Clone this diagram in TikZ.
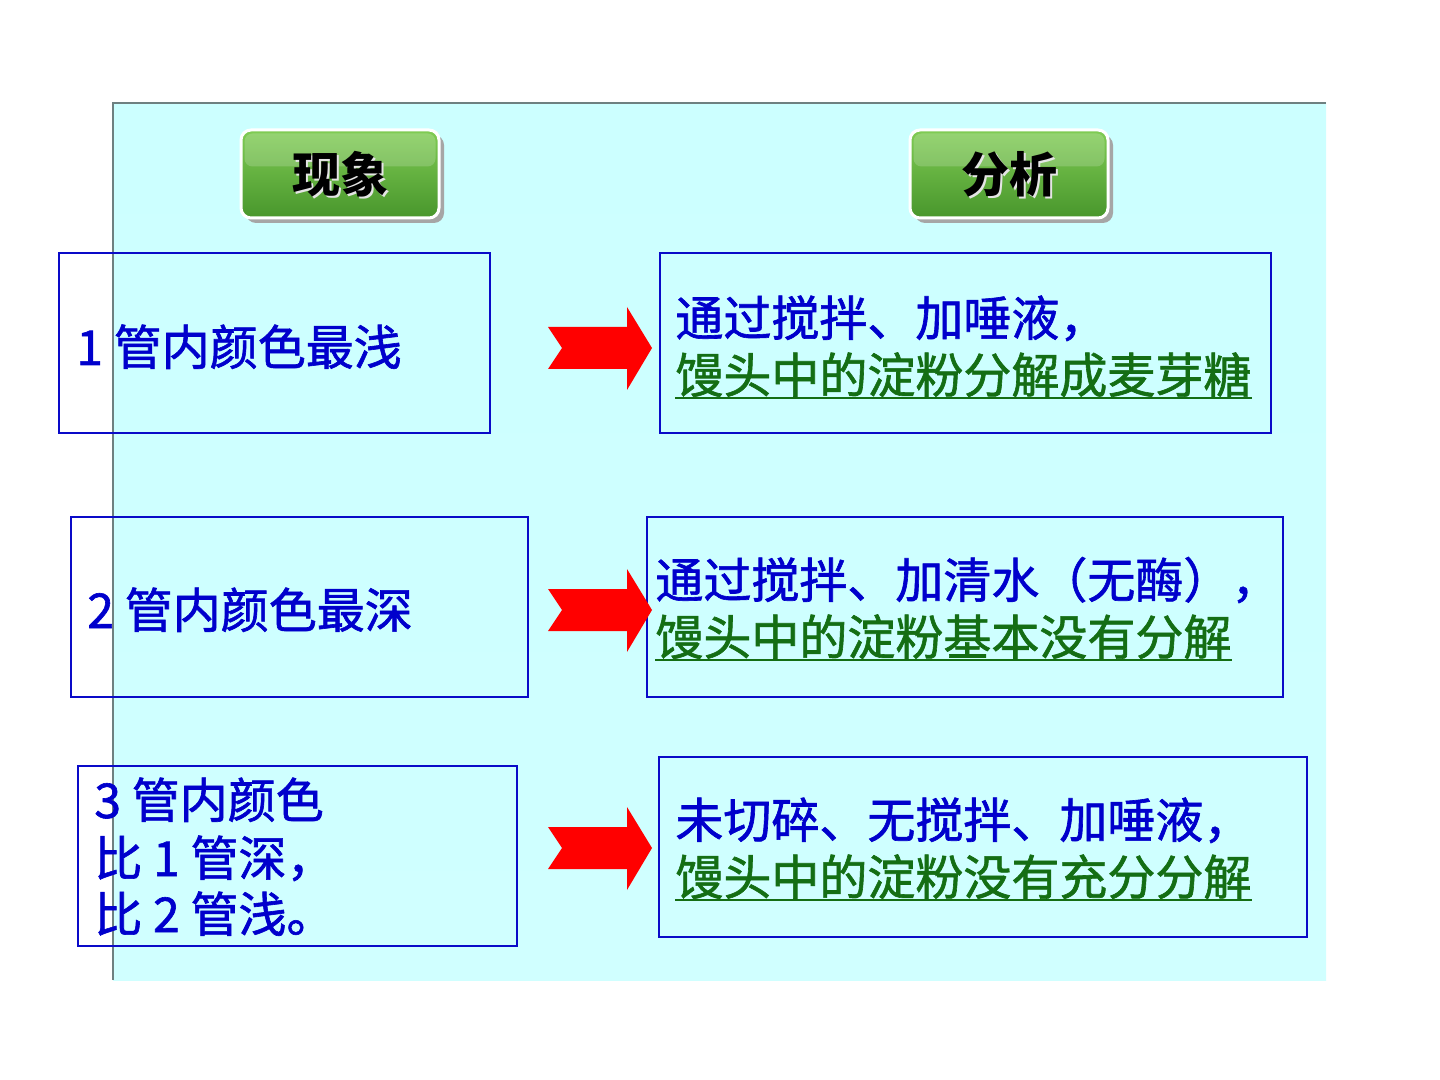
\documentclass[tikz,border=0pt]{standalone}
\usepackage{fontspec}
\newfontfamily\cjk[FakeBold=1.3]{Noto Sans CJK SC}
\newfontfamily\cjkh{Noto Sans CJK SC}
\usetikzlibrary{fit,shadows}
\definecolor{txtblue}{RGB}{0,0,204}
\definecolor{boxblue}{RGB}{10,10,200}
\definecolor{txtgreen}{RGB}{20,110,20}
\definecolor{arrred}{RGB}{255,0,0}
\definecolor{paneltop}{RGB}{204,255,255}
\definecolor{panelmid}{RGB}{232,255,255}
\definecolor{panelbot}{RGB}{208,255,255}
\definecolor{panelline}{RGB}{110,128,128}
\definecolor{btntop}{RGB}{128,204,84}
\definecolor{btnbot}{RGB}{72,150,44}
\begin{document}
\begin{tikzpicture}[x=0.5pt,y=-0.5pt,
  box/.style={draw=boxblue, line width=0.7pt, inner sep=0pt},
  lt/.style={font=\cjk\fontsize{24}{24}\selectfont, text=txtblue, inner sep=0pt, anchor=base west},
  gt/.style={lt, text=txtgreen},
  ul/.style={draw=txtgreen, line width=0.9pt},
  btn/.style={rounded corners=5pt, draw=white, line width=1.5pt,
    top color=btntop, bottom color=btnbot, minimum width=99pt, minimum height=44pt,
    drop shadow={shadow xshift=2.5pt, shadow yshift=-2.5pt, fill=black!35, opacity=1}},
  btntext/.style={font=\cjkh\bfseries\fontsize{24}{24}\selectfont, text=black, inner sep=0pt},
  btnshade/.style={btntext, text=white!80!gray},
  bigarrow/.pic={\fill[arrred] (0,-21) -- (79,-21) -- (79,-41) -- (104,0) -- (79,42) -- (79,21) -- (0,21) -- (14,0) -- cycle;}
]
\useasboundingbox (0,0) rectangle (1440,1080);
% panel
\shade[top color=paneltop, middle color=panelmid, bottom color=panelbot] (113,103) rectangle (1326,980);
\draw[panelline, line width=0.6pt] (113,980) -- (113,103) -- (1326,103);

% header buttons
\node[btn] (h1) at (340,174) {};
\fill[white, opacity=0.18, rounded corners=4pt] ([shift={(5,5)}]h1.north west) rectangle ([shift={(-5,38)}]h1.north east);
\node[btnshade] (h1s) at ([shift={(2.5,2.5)}]h1.center) {现象};
\node[btntext] (h1t) at (h1.center) {现象};

\node[btn] (h2) at (1009,174) {};
\fill[white, opacity=0.18, rounded corners=4pt] ([shift={(5,5)}]h2.north west) rectangle ([shift={(-5,38)}]h2.north east);
\node[btnshade] (h2s) at ([shift={(2.5,2.5)}]h2.center) {分析};
\node[btntext] (h2t) at (h2.center) {分析};

% left boxes
\node[box, fit={(59,253) (490,433)}] (L1) {};
\node[box, fit={(71,517) (528,697)}] (L2) {};
\node[box, fit={(78,766) (517,946)}] (L3) {};
% right boxes
\node[box, fit={(660,253) (1271,433)}] (R1) {};
\node[box, fit={(647,517) (1283,697)}] (R2) {};
\node[box, fit={(659,757) (1307,937)}] (R3) {};

% left texts
\node[lt] (l1) at (76,365) {1 管内颜色最浅};
\node[lt] (l2) at (87,628) {2 管内颜色最深};
\node[lt] (l3a) at (94,818) {3 管内颜色};
\node[lt] (l3b) at (94,876) {比 1 管深，};
\node[lt] (l3c) at (94,932) {比 2 管浅。};

% right texts
\node[lt] (r1a) at (675,336) {通过搅拌、加唾液，};
\node[gt] (r1b) at (675,393) {馒头中的淀粉分解成麦芽糖};
\draw[ul] ([yshift=-2.5pt]r1b.base west) -- ([yshift=-2.5pt]r1b.base east);

\node[lt] (r2a) at (655,598) {通过搅拌、加清水（无酶），};
\node[gt] (r2b) at (655,655) {馒头中的淀粉基本没有分解};
\draw[ul] ([yshift=-2.5pt]r2b.base west) -- ([yshift=-2.5pt]r2b.base east);

\node[lt] (r3a) at (675,838) {未切碎、无搅拌、加唾液，};
\node[gt] (r3b) at (675,895) {馒头中的淀粉没有充分分解};
\draw[ul] ([yshift=-2.5pt]r3b.base west) -- ([yshift=-2.5pt]r3b.base east);

% arrows
\pic (A1) at (548,348) {bigarrow};
\pic (A2) at (548,610) {bigarrow};
\pic (A3) at (548,848) {bigarrow};
\end{tikzpicture}
\end{document}
